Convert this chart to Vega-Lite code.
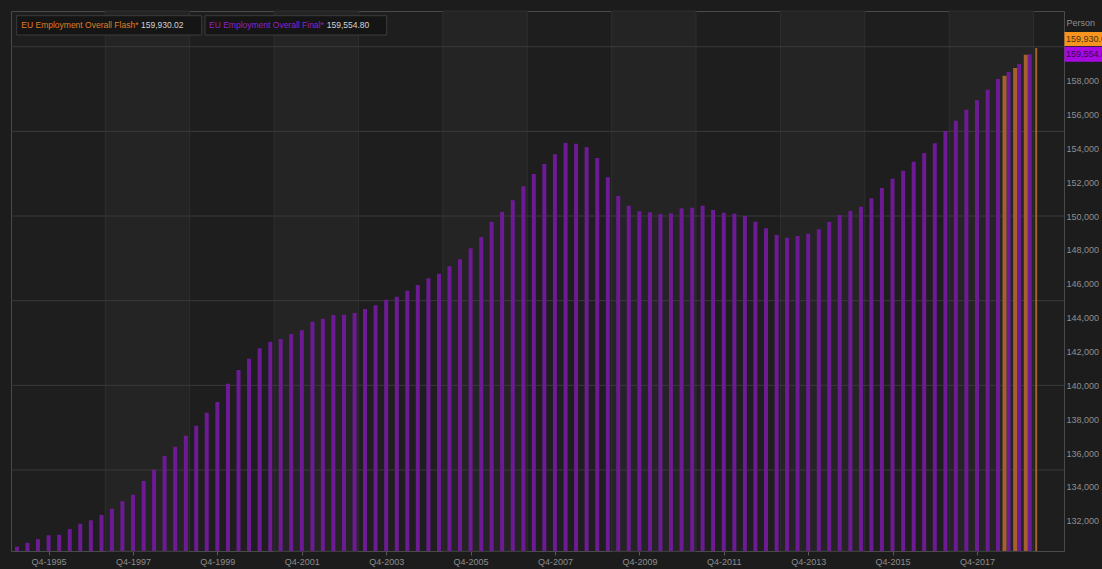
{
  "$schema": "https://vega.github.io/schema/vega-lite/v6.json",
  "width": 1053,
  "height": 540,
  "autosize": {"type": "none"},
  "padding": {"left": 11, "top": 11, "right": 38, "bottom": 18},
  "background": "#1c1c1c",
  "config": {
    "font": "Liberation Sans, Arial, sans-serif",
    "view": {"stroke": "#4a4a4a", "fill": "#1e1e1e"}
  },
  "datasets": {
    "bands": [
      {"start": "1997-02-03", "end": "1999-02-03"},
      {"start": "2001-02-03", "end": "2003-02-03"},
      {"start": "2005-02-03", "end": "2007-02-03"},
      {"start": "2009-02-03", "end": "2011-02-03"},
      {"start": "2013-02-03", "end": "2015-02-03"},
      {"start": "2017-02-03", "end": "2019-02-03"}
    ],
    "gridlines": [
      {"value": 135000}, {"value": 140000}, {"value": 145000},
      {"value": 150000}, {"value": 155000}, {"value": 160000}
    ],
    "latest": [
      {"series": "Flash", "name": "EU Employment Overall Flash*", "value": 159930.02},
      {"series": "Final", "name": "EU Employment Overall Final*", "value": 159554.80}
    ],
    "series": [
      {"series": "Final", "date": "1995-01-01", "value": 130470},
      {"series": "Final", "date": "1995-04-01", "value": 130706},
      {"series": "Final", "date": "1995-07-01", "value": 130907},
      {"series": "Final", "date": "1995-10-01", "value": 131143},
      {"series": "Final", "date": "1996-01-01", "value": 131179},
      {"series": "Final", "date": "1996-04-01", "value": 131515},
      {"series": "Final", "date": "1996-07-01", "value": 131829},
      {"series": "Final", "date": "1996-10-01", "value": 132029},
      {"series": "Final", "date": "1997-01-01", "value": 132342},
      {"series": "Final", "date": "1997-04-01", "value": 132714},
      {"series": "Final", "date": "1997-07-01", "value": 133151},
      {"series": "Final", "date": "1997-10-01", "value": 133541},
      {"series": "Final", "date": "1998-01-01", "value": 134350},
      {"series": "Final", "date": "1998-04-01", "value": 135018},
      {"series": "Final", "date": "1998-07-01", "value": 135827},
      {"series": "Final", "date": "1998-10-01", "value": 136376},
      {"series": "Final", "date": "1999-01-01", "value": 137026},
      {"series": "Final", "date": "1999-04-01", "value": 137616},
      {"series": "Final", "date": "1999-07-01", "value": 138384},
      {"series": "Final", "date": "1999-10-01", "value": 139016},
      {"series": "Final", "date": "2000-01-01", "value": 140097},
      {"series": "Final", "date": "2000-04-01", "value": 140906},
      {"series": "Final", "date": "2000-07-01", "value": 141573},
      {"series": "Final", "date": "2000-10-01", "value": 142188},
      {"series": "Final", "date": "2001-01-01", "value": 142570},
      {"series": "Final", "date": "2001-04-01", "value": 142737},
      {"series": "Final", "date": "2001-07-01", "value": 143032},
      {"series": "Final", "date": "2001-10-01", "value": 143251},
      {"series": "Final", "date": "2002-01-01", "value": 143759},
      {"series": "Final", "date": "2002-04-01", "value": 143936},
      {"series": "Final", "date": "2002-07-01", "value": 144154},
      {"series": "Final", "date": "2002-10-01", "value": 144172},
      {"series": "Final", "date": "2003-01-01", "value": 144272},
      {"series": "Final", "date": "2003-04-01", "value": 144509},
      {"series": "Final", "date": "2003-07-01", "value": 144727},
      {"series": "Final", "date": "2003-10-01", "value": 145058},
      {"series": "Final", "date": "2004-01-01", "value": 145235},
      {"series": "Final", "date": "2004-04-01", "value": 145590},
      {"series": "Final", "date": "2004-07-01", "value": 145926},
      {"series": "Final", "date": "2004-10-01", "value": 146322},
      {"series": "Final", "date": "2005-01-01", "value": 146593},
      {"series": "Final", "date": "2005-04-01", "value": 147031},
      {"series": "Final", "date": "2005-07-01", "value": 147444},
      {"series": "Final", "date": "2005-10-01", "value": 148093},
      {"series": "Final", "date": "2006-01-01", "value": 148761},
      {"series": "Final", "date": "2006-04-01", "value": 149647},
      {"series": "Final", "date": "2006-07-01", "value": 150237},
      {"series": "Final", "date": "2006-10-01", "value": 150928},
      {"series": "Final", "date": "2007-01-01", "value": 151765},
      {"series": "Final", "date": "2007-04-01", "value": 152482},
      {"series": "Final", "date": "2007-07-01", "value": 153072},
      {"series": "Final", "date": "2007-10-01", "value": 153645},
      {"series": "Final", "date": "2008-01-01", "value": 154313},
      {"series": "Final", "date": "2008-04-01", "value": 154271},
      {"series": "Final", "date": "2008-07-01", "value": 154059},
      {"series": "Final", "date": "2008-10-01", "value": 153427},
      {"series": "Final", "date": "2009-01-01", "value": 152287},
      {"series": "Final", "date": "2009-04-01", "value": 151182},
      {"series": "Final", "date": "2009-07-01", "value": 150610},
      {"series": "Final", "date": "2009-10-01", "value": 150279},
      {"series": "Final", "date": "2010-01-01", "value": 150220},
      {"series": "Final", "date": "2010-04-01", "value": 150119},
      {"series": "Final", "date": "2010-07-01", "value": 150161},
      {"series": "Final", "date": "2010-10-01", "value": 150456},
      {"series": "Final", "date": "2011-01-01", "value": 150491},
      {"series": "Final", "date": "2011-04-01", "value": 150610},
      {"series": "Final", "date": "2011-07-01", "value": 150356},
      {"series": "Final", "date": "2011-10-01", "value": 150196},
      {"series": "Final", "date": "2012-01-01", "value": 150137},
      {"series": "Final", "date": "2012-04-01", "value": 150001},
      {"series": "Final", "date": "2012-07-01", "value": 149665},
      {"series": "Final", "date": "2012-10-01", "value": 149275},
      {"series": "Final", "date": "2013-01-01", "value": 148879},
      {"series": "Final", "date": "2013-04-01", "value": 148720},
      {"series": "Final", "date": "2013-07-01", "value": 148820},
      {"series": "Final", "date": "2013-10-01", "value": 148956},
      {"series": "Final", "date": "2014-01-01", "value": 149216},
      {"series": "Final", "date": "2014-04-01", "value": 149647},
      {"series": "Final", "date": "2014-07-01", "value": 150060},
      {"series": "Final", "date": "2014-10-01", "value": 150297},
      {"series": "Final", "date": "2015-01-01", "value": 150551},
      {"series": "Final", "date": "2015-04-01", "value": 151047},
      {"series": "Final", "date": "2015-07-01", "value": 151655},
      {"series": "Final", "date": "2015-10-01", "value": 152204},
      {"series": "Final", "date": "2016-01-01", "value": 152677},
      {"series": "Final", "date": "2016-04-01", "value": 153208},
      {"series": "Final", "date": "2016-07-01", "value": 153722},
      {"series": "Final", "date": "2016-10-01", "value": 154295},
      {"series": "Final", "date": "2017-01-01", "value": 155021},
      {"series": "Final", "date": "2017-04-01", "value": 155630},
      {"series": "Final", "date": "2017-07-01", "value": 156279},
      {"series": "Final", "date": "2017-10-01", "value": 156834},
      {"series": "Final", "date": "2018-01-01", "value": 157460},
      {"series": "Final", "date": "2018-04-01", "value": 158092},
      {"series": "Final", "date": "2018-07-01", "value": 158505},
      {"series": "Final", "date": "2018-10-01", "value": 158978},
      {"series": "Final", "date": "2019-01-01", "value": 159554.80},
      {"series": "Flash", "date": "2018-07-01", "value": 158287},
      {"series": "Flash", "date": "2018-10-01", "value": 158742},
      {"series": "Flash", "date": "2019-01-01", "value": 159528},
      {"series": "Flash", "date": "2019-04-01", "value": 159930.02}
    ]
  },
  "layer": [
    {
      "data": {"name": "bands"},
      "mark": {"type": "rect", "fill": "#242424", "stroke": "#2f2f2f", "strokeWidth": 1},
      "encoding": {
        "x": {"field": "start", "type": "temporal",
          "scale": {"type": "utc", "domain": [{"year": 1994, "month": 12, "date": 23, "utc": true}, {"year": 2019, "month": 9, "date": 11, "utc": true}]},
          "axis": {
            "values": [
              {"year": 1995, "month": 10, "date": 1, "utc": true},
              {"year": 1997, "month": 10, "date": 1, "utc": true},
              {"year": 1999, "month": 10, "date": 1, "utc": true},
              {"year": 2001, "month": 10, "date": 1, "utc": true},
              {"year": 2003, "month": 10, "date": 1, "utc": true},
              {"year": 2005, "month": 10, "date": 1, "utc": true},
              {"year": 2007, "month": 10, "date": 1, "utc": true},
              {"year": 2009, "month": 10, "date": 1, "utc": true},
              {"year": 2011, "month": 10, "date": 1, "utc": true},
              {"year": 2013, "month": 10, "date": 1, "utc": true},
              {"year": 2015, "month": 10, "date": 1, "utc": true},
              {"year": 2017, "month": 10, "date": 1, "utc": true}
            ],
            "labelExpr": "'Q4-' + utcFormat(datum.value, '%Y')",
            "labelColor": "#8c8c8c", "labelFontSize": 9, "labelPadding": 2,
            "labelOverlap": false, "labelFlush": false,
            "tickColor": "#5a5a5a", "tickSize": 4,
            "domain": false, "grid": false, "title": null
          }
        },
        "x2": {"field": "end"}
      }
    },
    {
      "data": {"name": "gridlines"},
      "mark": {"type": "rule", "color": "#3a3a3a", "strokeWidth": 1},
      "encoding": {
        "y": {"field": "value", "type": "quantitative",
          "scale": {"domain": [130216, 162109], "zero": false, "nice": false},
          "axis": {
            "orient": "right",
            "values": [132000, 134000, 136000, 138000, 140000, 142000, 144000, 146000, 148000, 150000, 152000, 154000, 156000, 158000],
            "format": ",d",
            "labelOverlap": false,
            "labelColor": "#8f8f8f", "labelFontSize": 9, "labelPadding": 2,
            "ticks": false, "domain": false, "grid": false,
            "title": "Person", "titleAngle": 0, "titleAlign": "left", "titleBaseline": "middle",
            "titleX": 2, "titleY": 11, "titleColor": "#8f8f8f", "titleFontSize": 9, "titleFontWeight": "normal"
          }
        }
      }
    },
    {
      "data": {"name": "series"},
      "transform": [{"filter": "datum.series == 'Final'"}],
      "mark": {"type": "bar", "color": "#6d1b94", "size": 4, "clip": true},
      "encoding": {
        "x": {"field": "date", "type": "temporal"},
        "y": {"field": "value", "type": "quantitative"}
      }
    },
    {
      "data": {"name": "series"},
      "transform": [{"filter": "datum.series == 'Flash'"}],
      "mark": {"type": "bar", "color": "#a5612b", "xOffset": -4, "clip": true},
      "encoding": {
        "x": {"field": "date", "type": "temporal"},
        "y": {"field": "value", "type": "quantitative"},
        "size": {"condition": {"test": "utcyear(datum.date) == 2019 && utcmonth(datum.date) == 3", "value": 2}, "value": 4}
      }
    },
    {
      "data": {"name": "latest"},
      "transform": [{"filter": "datum.series == 'Flash'"}],
      "mark": {"type": "rect", "fill": "#151515", "stroke": "#3c3c3c", "strokeWidth": 1, "xOffset": 0.7, "x2Offset": 185.7, "yOffset": 4.7, "y2Offset": 24},
      "encoding": {
        "x": {"datum": {"year": 1994, "month": 12, "date": 23, "utc": true}, "type": "temporal"},
        "x2": {"datum": {"year": 1994, "month": 12, "date": 23, "utc": true}},
        "y": {"datum": 162109, "type": "quantitative"},
        "y2": {"datum": 162109}
      }
    },
    {
      "data": {"name": "latest"},
      "transform": [{"filter": "datum.series == 'Final'"}],
      "mark": {"type": "rect", "fill": "#151515", "stroke": "#3c3c3c", "strokeWidth": 1, "xOffset": 189, "x2Offset": 370.7, "yOffset": 4.7, "y2Offset": 24},
      "encoding": {
        "x": {"datum": {"year": 1994, "month": 12, "date": 23, "utc": true}, "type": "temporal"},
        "x2": {"datum": {"year": 1994, "month": 12, "date": 23, "utc": true}},
        "y": {"datum": 162109, "type": "quantitative"},
        "y2": {"datum": 162109}
      }
    },
    {
      "data": {"name": "latest"},
      "transform": [{"filter": "datum.series == 'Flash'"}],
      "mark": {"type": "text", "align": "left", "baseline": "middle", "fontSize": 8.5, "fill": "#e07b22", "xOffset": 5.3, "yOffset": 14.3},
      "encoding": {
        "x": {"datum": {"year": 1994, "month": 12, "date": 23, "utc": true}, "type": "temporal"},
        "y": {"datum": 162109, "type": "quantitative"},
        "text": {"field": "name"}
      }
    },
    {
      "data": {"name": "latest"},
      "transform": [{"filter": "datum.series == 'Flash'"}],
      "mark": {"type": "text", "align": "left", "baseline": "middle", "fontSize": 8.5, "fill": "#d2d2d2", "xOffset": 125, "yOffset": 14.3},
      "encoding": {
        "x": {"datum": {"year": 1994, "month": 12, "date": 23, "utc": true}, "type": "temporal"},
        "y": {"datum": 162109, "type": "quantitative"},
        "text": {"field": "value", "format": ",.2f"}
      }
    },
    {
      "data": {"name": "latest"},
      "transform": [{"filter": "datum.series == 'Final'"}],
      "mark": {"type": "text", "align": "left", "baseline": "middle", "fontSize": 8.5, "fill": "#8e22cc", "xOffset": 193, "yOffset": 14.3},
      "encoding": {
        "x": {"datum": {"year": 1994, "month": 12, "date": 23, "utc": true}, "type": "temporal"},
        "y": {"datum": 162109, "type": "quantitative"},
        "text": {"field": "name"}
      }
    },
    {
      "data": {"name": "latest"},
      "transform": [{"filter": "datum.series == 'Final'"}],
      "mark": {"type": "text", "align": "left", "baseline": "middle", "fontSize": 8.5, "fill": "#d2d2d2", "xOffset": 310.7, "yOffset": 14.3},
      "encoding": {
        "x": {"datum": {"year": 1994, "month": 12, "date": 23, "utc": true}, "type": "temporal"},
        "y": {"datum": 162109, "type": "quantitative"},
        "text": {"field": "value", "format": ",.2f"}
      }
    },
    {
      "data": {"name": "latest"},
      "transform": [{"filter": "datum.series == 'Flash'"}],
      "mark": {"type": "rect", "fill": "#f7941d", "xOffset": 0.5, "x2Offset": 45, "yOffset": -16, "y2Offset": -2},
      "encoding": {
        "x": {"value": "width"},
        "x2": {"value": "width"},
        "y": {"field": "value", "type": "quantitative"},
        "y2": {"field": "value"}
      }
    },
    {
      "data": {"name": "latest"},
      "transform": [{"filter": "datum.series == 'Final'"}],
      "mark": {"type": "rect", "fill": "#a60ae0", "xOffset": 0.5, "x2Offset": 45, "yOffset": -7.5, "y2Offset": 7.5},
      "encoding": {
        "x": {"value": "width"},
        "x2": {"value": "width"},
        "y": {"field": "value", "type": "quantitative"},
        "y2": {"field": "value"}
      }
    },
    {
      "data": {"name": "latest"},
      "transform": [{"filter": "datum.series == 'Flash'"}],
      "mark": {"type": "text", "align": "left", "baseline": "middle", "fontSize": 9, "fill": "#4a3014", "xOffset": 2, "yOffset": -9},
      "encoding": {
        "x": {"value": "width"},
        "y": {"field": "value", "type": "quantitative"},
        "text": {"field": "value", "format": ",.2f"}
      }
    },
    {
      "data": {"name": "latest"},
      "transform": [{"filter": "datum.series == 'Final'"}],
      "mark": {"type": "text", "align": "left", "baseline": "middle", "fontSize": 9, "fill": "#3a0852", "xOffset": 2, "yOffset": 0},
      "encoding": {
        "x": {"value": "width"},
        "y": {"field": "value", "type": "quantitative"},
        "text": {"field": "value", "format": ",.2f"}
      }
    }
  ]
}
